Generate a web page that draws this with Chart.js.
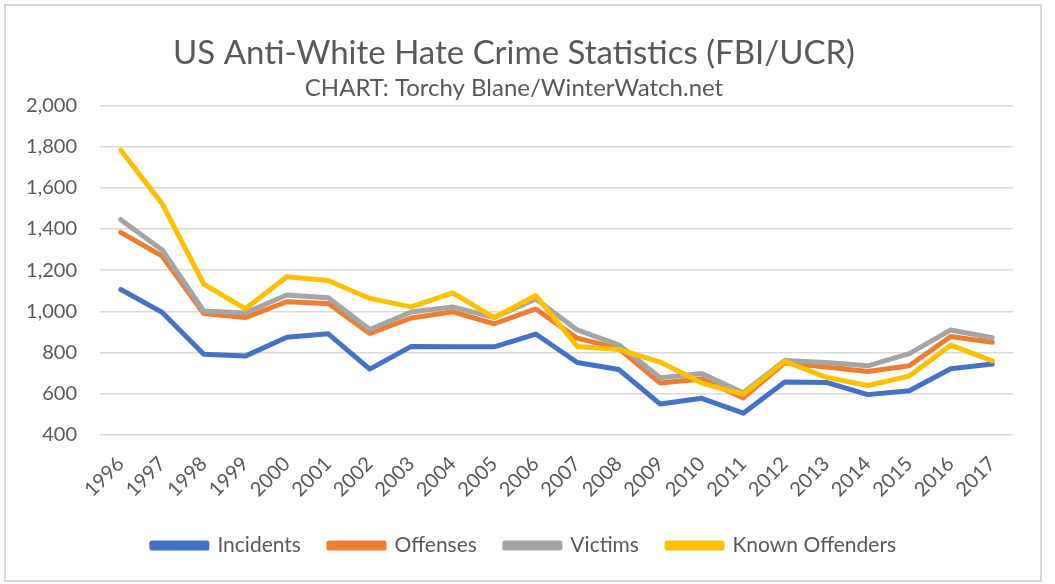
<!DOCTYPE html>
<html>
<head>
<meta charset="utf-8">
<script src="https://cdn.jsdelivr.net/npm/chart.js@4.4.1/dist/chart.umd.min.js"></script>
<style>
  html, body { margin: 0; padding: 0; background: #ffffff; }
  #wrap { position: relative; width: 1055px; height: 584px; }
</style>
</head>
<body>
<div id="wrap"><canvas id="c" width="1055" height="584"></canvas></div>
<script>
const years = ['1996','1997','1998','1999','2000','2001','2002','2003','2004','2005','2006','2007','2008','2009','2010','2011','2012','2013','2014','2015','2016','2017'];
const incidents = [1106, 995, 792, 783, 875, 891, 720, 830, 829, 828, 890, 752, 718, 550, 578, 506, 657, 655, 596, 615, 722, 745];
const offenses  = [1384, 1268, 990, 970, 1047, 1038, 893, 968, 998, 940, 1012, 870, 820, 652, 672, 580, 750, 730, 708, 736, 878, 850];
const victims   = [1445, 1298, 1002, 992, 1080, 1066, 912, 997, 1022, 970, 1060, 910, 838, 678, 698, 605, 762, 752, 736, 795, 910, 872];
const knownOffenders = [1783, 1522, 1133, 1012, 1168, 1150, 1063, 1022, 1090, 970, 1077, 830, 815, 754, 652, 598, 758, 680, 640, 686, 836, 760];
const yTicks = { min: 400, max: 2000, step: 200 };

const FONT = 'Lato, "Open Sans", sans-serif';
const TXT = '#595959';

const borderPlugin = {
  id: 'outerBorder',
  beforeDraw(chart) {
    const ctx = chart.ctx;
    ctx.save();
    ctx.fillStyle = '#ffffff';
    ctx.fillRect(0, 0, chart.width, chart.height);
    ctx.strokeStyle = '#d9d9d9';
    ctx.lineWidth = 2;
    ctx.strokeRect(5, 5, 1036, 576);
    ctx.restore();
  }
};

const legendShift = {
  id: 'legendShift',
  afterLayout(chart) {
    const lg = chart.legend;
    if (!lg) return;
    const dx = 10;
    lg.left += dx; lg.right += dx;
  }
};

new Chart(document.getElementById('c'), {
  type: 'line',
  data: {
    labels: years,
    datasets: [
      { label: 'Incidents', data: incidents, borderColor: '#4472C4', backgroundColor: '#4472C4', order: 4 },
      { label: 'Offenses', data: offenses, borderColor: '#ED7D31', backgroundColor: '#ED7D31', order: 3 },
      { label: 'Victims', data: victims, borderColor: '#A5A5A5', backgroundColor: '#A5A5A5', order: 2 },
      { label: 'Known Offenders', data: knownOffenders, borderColor: '#FFC000', backgroundColor: '#FFC000', order: 1 }
    ]
  },
  options: {
    responsive: false,
    animation: false,
    devicePixelRatio: 1,
    layout: { padding: { left: 15, right: 42, top: 34, bottom: 18 } },
    elements: {
      line: { borderWidth: 5, tension: 0, borderCapStyle: 'round', borderJoinStyle: 'round' },
      point: { radius: 0, hoverRadius: 0 }
    },
    plugins: {
      tooltip: { enabled: false },
      title: {
        display: true,
        text: 'US Anti-White Hate Crime Statistics (FBI/UCR)',
        color: TXT,
        font: { family: FONT, size: 33, weight: 'normal' },
        padding: { top: 0, bottom: 0 }
      },
      subtitle: {
        display: true,
        text: 'CHART: Torchy Blane/WinterWatch.net',
        color: TXT,
        font: { family: FONT, size: 24, weight: 'normal' },
        padding: { top: 0, bottom: 3 }
      },
      legend: {
        position: 'bottom',
        labels: {
          color: TXT,
          font: { family: FONT, size: 21 },
          boxWidth: 55,
          boxHeight: 5,
          padding: 28,
          sort: (a, b) => a.datasetIndex - b.datasetIndex
        }
      }
    },
    scales: {
      x: {
        offset: true,
        grid: { display: false, drawTicks: false },
        border: { display: false },
        afterFit(scale) { scale.height = 72; },
        ticks: {
          color: TXT,
          font: { family: FONT, size: 20 },
          maxRotation: 45,
          minRotation: 45,
          autoSkip: false,
          padding: 17
        }
      },
      y: {
        min: yTicks.min,
        max: yTicks.max,
        afterFit(scale) { scale.width = 85; },
        grid: { color: '#d9d9d9', lineWidth: 1.5, drawTicks: false },
        border: { display: false },
        ticks: {
          stepSize: yTicks.step,
          color: TXT,
          font: { family: FONT, size: 20 },
          padding: 23,
          callback: v => v.toLocaleString('en-US')
        }
      }
    }
  },
  plugins: [borderPlugin, legendShift]
});
</script>
</body>
</html>
